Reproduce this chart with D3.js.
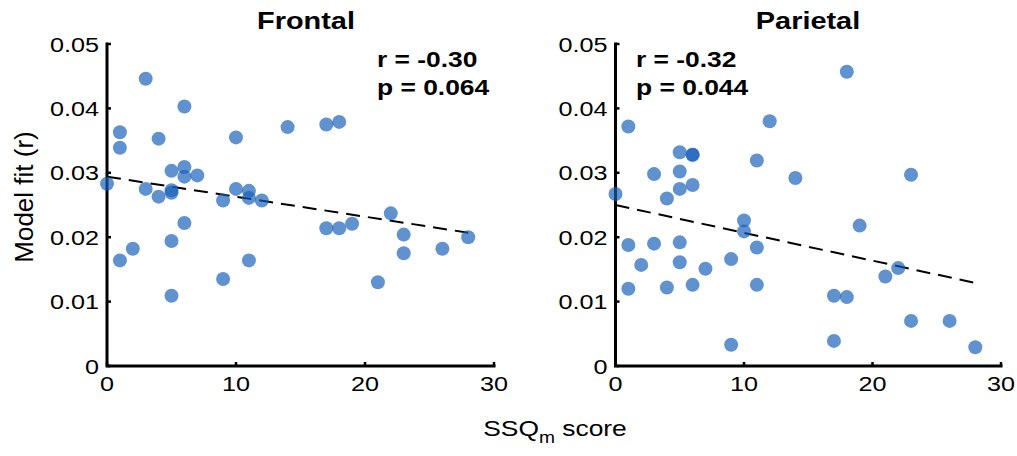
<!DOCTYPE html>
<html>
<head>
<meta charset="utf-8">
<script src="https://cdn.jsdelivr.net/npm/d3@7/dist/d3.min.js"></script>
<style>
  html, body { margin: 0; padding: 0; background: #fff; }
  svg { display: block; }
  text { font-family: "Liberation Sans", Arial, Helvetica, sans-serif; fill: #000; }
</style>
</head>
<body>
<svg id="chart" width="1017" height="456"></svg>
<script>
// ---------------- data ----------------
const panelTitles = ["Frontal", "Parietal"];
const statR = ["r = -0.30", "r = -0.32"];
const statP = ["p = 0.064", "p = 0.044"];
const xTicks = [0, 10, 20, 30];
const yTicks = [0, 0.01, 0.02, 0.03, 0.04, 0.05];
const yTickLabels = ["0", "0.01", "0.02", "0.03", "0.04", "0.05"];

// SSQm score per subject
const frontalX = [0, 1, 1, 1, 2, 3, 3, 4, 4, 5, 5, 5, 5, 5, 6, 6, 6, 6, 7, 9, 9, 10, 10, 11, 11, 11, 12, 14, 17, 18, 17, 18, 19, 21, 22, 23, 23, 26, 28];
const frontalY = [0.0283, 0.0363, 0.0339, 0.0164, 0.0182, 0.0446, 0.0275, 0.0353, 0.0263, 0.0303, 0.0273, 0.0269, 0.0194, 0.0109, 0.0403, 0.0309, 0.0294, 0.0222, 0.0296, 0.0257, 0.0135, 0.0355, 0.0275, 0.0272, 0.0261, 0.0164, 0.0257, 0.0371, 0.0375, 0.0379, 0.0214, 0.0214, 0.0221, 0.0130, 0.0237, 0.0204, 0.0175, 0.0182, 0.0200];
const frontalFitX = [0, 28];
const frontalFitY = [0.0294, 0.0207];

const parietalX = [0, 1, 1, 1, 2, 3, 3, 4, 4, 5, 5, 5, 5, 5, 6, 6, 6, 6, 7, 9, 9, 10, 10, 11, 11, 11, 12, 14, 18, 17, 17, 18, 19, 21, 22, 23, 23, 26, 28];
const parietalY = [0.0267, 0.0372, 0.0188, 0.0120, 0.0157, 0.0298, 0.0190, 0.0260, 0.0122, 0.0332, 0.0302, 0.0275, 0.0192, 0.0161, 0.0328, 0.0328, 0.0281, 0.0126, 0.0151, 0.0166, 0.0033, 0.0226, 0.0209, 0.0319, 0.0184, 0.0126, 0.0380, 0.0292, 0.0457, 0.0109, 0.0039, 0.0107, 0.0218, 0.0139, 0.0152, 0.0297, 0.0070, 0.0070, 0.0029];
const parietalFitX = [0, 28];
const parietalFitY = [0.0250, 0.0129];

// ---------------- layout ----------------
const svg = d3.select("#chart");
const SX = 1.2; // horizontal text stretch of the reference
const yTop = 44, yBottom = 366;
const panels = [
  { x0: 107, x1: 494, title: panelTitles[0], r: statR[0], p: statP[0], xs: frontalX, ys: frontalY, fx: frontalFitX, fy: frontalFitY, titleX: 306, statX: 377 },
  { x0: 615.5, x1: 1001, title: panelTitles[1], r: statR[1], p: statP[1], xs: parietalX, ys: parietalY, fx: parietalFitX, fy: parietalFitY, titleX: 808, statX: 636 }
];

const y = d3.scaleLinear().domain([0, 0.05]).range([yBottom, yTop]);

function txt(g, x, yy, str, size, weight, anchor, sx) {
  return g.append("text")
    .attr("transform", `translate(${x},${yy}) scale(${sx},1)`)
    .attr("font-size", size)
    .attr("font-weight", weight)
    .attr("text-anchor", anchor)
    .text(str);
}

panels.forEach(pn => {
  const x = d3.scaleLinear().domain([0, 30]).range([pn.x0, pn.x1]);
  const g = svg.append("g");

  // axes lines
  g.append("path")
    .attr("d", `M${x(0)},${y(0.05)} L${x(0)},${y(0)} L${x(30)},${y(0)}`)
    .attr("fill", "none").attr("stroke", "#000").attr("stroke-width", 3)
    .attr("stroke-linejoin", "miter").attr("stroke-linecap", "square");

  // y ticks (inward)
  g.selectAll(".yt").data(yTicks).enter().append("line")
    .attr("x1", x(0)).attr("x2", x(0) + 4)
    .attr("y1", d => y(d)).attr("y2", d => y(d))
    .attr("stroke", "#000").attr("stroke-width", 2.5);
  // x ticks (inward)
  g.selectAll(".xt").data(xTicks).enter().append("line")
    .attr("x1", d => x(d)).attr("x2", d => x(d))
    .attr("y1", y(0)).attr("y2", y(0) - 4)
    .attr("stroke", "#000").attr("stroke-width", 2.5);

  // tick labels
  yTicks.forEach((t, i) => {
    txt(g, x(0) - 8, y(t) + 7.5, yTickLabels[i], 21, "normal", "end", SX);
  });
  xTicks.forEach(t => {
    txt(g, x(t), 391, String(t), 21, "normal", "middle", SX);
  });

  // title and stats
  txt(g, pn.titleX, 29, pn.title, 24.5, "bold", "middle", 1.18);
  txt(g, pn.statX, 66.5, pn.r, 22, "bold", "start", SX);
  txt(g, pn.statX, 95, pn.p, 22, "bold", "start", SX);

  // fit line
  const fit = pn.fx.map((v, i) => [v, pn.fy[i]]);
  g.append("path")
    .attr("d", d3.line().x(d => x(d[0])).y(d => y(d[1]))(fit))
    .attr("fill", "none").attr("stroke", "#000").attr("stroke-width", 2)
    .attr("stroke-dasharray", "14,8");

  // points
  const pts = pn.xs.map((v, i) => [v, pn.ys[i]]);
  g.selectAll(".pt").data(pts).enter().append("circle")
    .attr("cx", d => x(d[0])).attr("cy", d => y(d[1]))
    .attr("r", 7)
    .attr("fill", "rgb(22,94,186)").attr("fill-opacity", 0.68);
});

// axis labels
svg.append("text")
  .attr("transform", `translate(33,197) rotate(-90)`)
  .attr("font-size", 26).attr("text-anchor", "middle")
  .text("Model fit (r)");

const xl = svg.append("text")
  .attr("transform", `translate(555,436) scale(${SX},1)`)
  .attr("font-size", 22).attr("text-anchor", "middle");
xl.append("tspan").text("SSQ");
xl.append("tspan").attr("font-size", 16).attr("dy", 7).text("m");
xl.append("tspan").attr("dy", -7).text(" score");
</script>
</body>
</html>
